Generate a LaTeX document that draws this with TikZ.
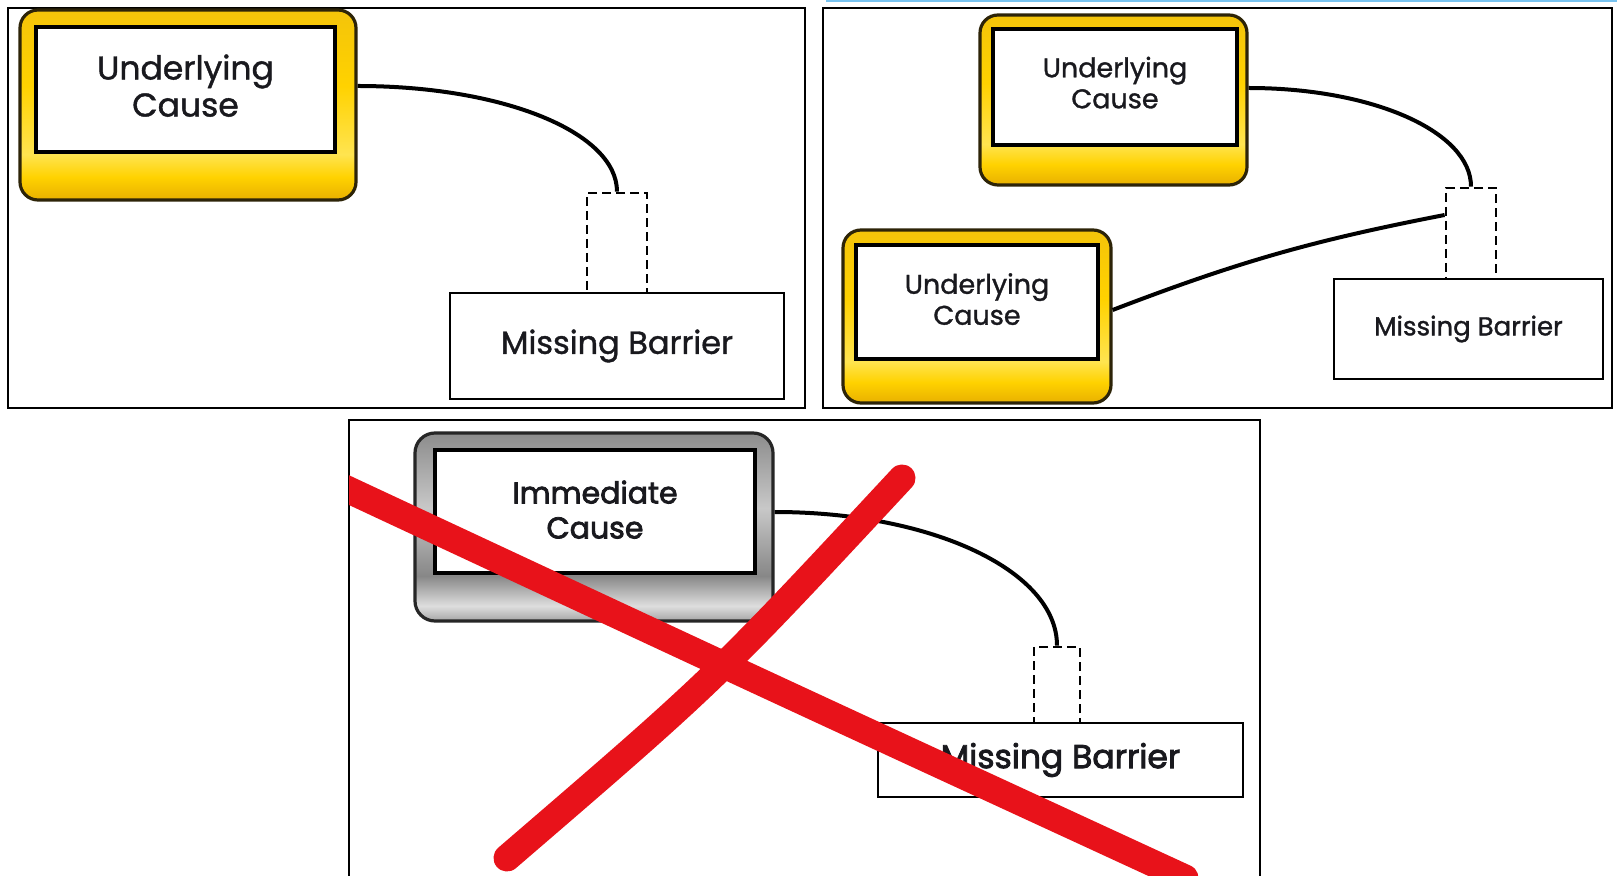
\documentclass[tikz,border=0pt]{standalone}
\usepackage{fontspec}
\setmainfont{Poppins}[FakeBold=1.2]
\newfontfamily\boldish{Poppins}[FakeBold=2.6]
\usetikzlibrary{calc}
\definecolor{redx}{RGB}{232,18,26}
\definecolor{ybord}{RGB}{45,36,8}
\definecolor{bluebar}{RGB}{120,195,240}
\definecolor{txt}{RGB}{25,25,30}
\definecolor{yA}{RGB}{232,176,0}
\definecolor{yB}{RGB}{255,210,0}
\definecolor{yC}{RGB}{255,228,80}
\definecolor{yD}{RGB}{244,196,10}
\definecolor{gA}{RGB}{165,165,165}
\definecolor{gB}{RGB}{222,222,222}
\definecolor{gC}{RGB}{135,135,135}
\definecolor{gD}{RGB}{200,200,200}
\definecolor{gE}{RGB}{140,140,140}
\pgfdeclareverticalshading{yellowsh}{100bp}{color(0bp)=(yA); color(25bp)=(yA); color(31bp)=(yB); color(37bp)=(yC); color(55bp)=(yB); color(75bp)=(yD); color(100bp)=(yD)}
\pgfdeclareverticalshading{graysh}{100bp}{color(0bp)=(gA); color(25bp)=(gA); color(29bp)=(gB); color(37bp)=(gC); color(55bp)=(gD); color(75bp)=(gE); color(100bp)=(gE)}
\begin{document}
\begin{tikzpicture}[x=0.5pt,y=-0.5pt,
  frame/.style={draw=black, line width=1pt},
  ybox/.style={draw=ybord, line width=1.6pt, rounded corners=9pt, shade, shading=yellowsh, rectangle, inner sep=0pt},
  gbox/.style={draw=black!85, line width=1.6pt, rounded corners=10pt, shade, shading=graysh, rectangle, inner sep=0pt},
  wbox/.style={draw=black, line width=1.6pt, fill=white, align=center, inner sep=0pt, text=txt},
  mbox/.style={draw=black, line width=1.4pt, fill=white, inner sep=0pt, text=txt},
  dbox/.style={draw=black, line width=1.4pt, dash pattern=on 4.5pt off 2.5pt, inner sep=0pt},
  link/.style={draw=black, line width=2pt},
  xstroke/.style={draw=redx, line width=13.5pt, line cap=round}]
\useasboundingbox (0,0) rectangle (1617,876);
\fill[white] (0,0) rectangle (1617,876);
\draw[draw=bluebar, line width=1.5pt] (826,1) -- (1617,1);
% ---------- panel 1
\draw[frame] (8,8) rectangle (805,408);
\node[ybox, minimum width=168pt, minimum height=95pt] (o1) at (188,105) {};
\node[wbox, minimum width=149.5pt, minimum height=62.5pt, text depth=4pt, font=\fontsize{16.5}{18.5}\selectfont] (u1) at (185.5,89.5) {Underlying\\Cause};
\node[dbox, minimum width=30pt, minimum height=50pt] (d1) at (617,243) {};
\node[mbox, minimum width=167pt, minimum height=53pt, font=\fontsize{16}{16}\selectfont] (m1) at (617,346) {Missing Barrier};
\draw[link] ([yshift=9.5pt]o1.east) .. controls +(146,0) and +(0,-59) .. (d1.north);
% ---------- panel 2
\draw[frame] (823,8) rectangle (1612,408);
\node[ybox, minimum width=133.5pt, minimum height=85pt] (o2) at (1113.5,100) {};
\node[wbox, minimum width=122pt, minimum height=58pt, text depth=4.5pt, font=\fontsize{13.5}{15.5}\selectfont] (u2) at (1115,87) {Underlying\\Cause};
\node[ybox, minimum width=134pt, minimum height=86.5pt] (o3) at (977,316.5) {};
\node[wbox, minimum width=121pt, minimum height=57pt, text depth=3pt, font=\fontsize{13.5}{15.5}\selectfont] (u3) at (977,302) {Underlying\\Cause};
\node[dbox, minimum width=25pt, minimum height=45.5pt] (d2) at (1471,233.5) {};
\node[mbox, minimum width=134.5pt, minimum height=50pt, font=\fontsize{13}{13}\selectfont] (m2) at (1468.5,329) {Missing Barrier};
\draw[link] ([yshift=6pt]o2.east) .. controls +(124,0) and +(0,-55) .. (d2.north);
\draw[link] ([yshift=3.25pt]o3.east) to[bend left=5] ([yshift=9.25pt]d2.west);
% ---------- panel 3
\draw[frame] (349,420) rectangle (1260,900);
\node[gbox, minimum width=179pt, minimum height=94pt] (o4) at (594,527) {};
\node[wbox, minimum width=160pt, minimum height=61.5pt, text depth=2pt, font=\boldish\fontsize{15}{17.5}\selectfont] (u4) at (595,511.5) {Immediate\\Cause};
\node[dbox, minimum width=23pt, minimum height=38pt] (d3) at (1057,685) {};
\node[mbox, minimum width=182.5pt, minimum height=37pt, font=\boldish\fontsize{16.5}{16.5}\selectfont] (m3) at (1060.5,760) {Missing Barrier};
\draw[link] ([yshift=7.5pt]o4.east) .. controls +(157,0) and +(0,-75) .. (d3.north);
\begin{scope}
\clip (349,420) rectangle (1260,900);
\draw[xstroke] (338,485) .. controls (760,682) .. (1185,878);
\draw[xstroke] (902,478) .. controls (715,679) .. (507,858);
\end{scope}
\end{tikzpicture}
\end{document}
